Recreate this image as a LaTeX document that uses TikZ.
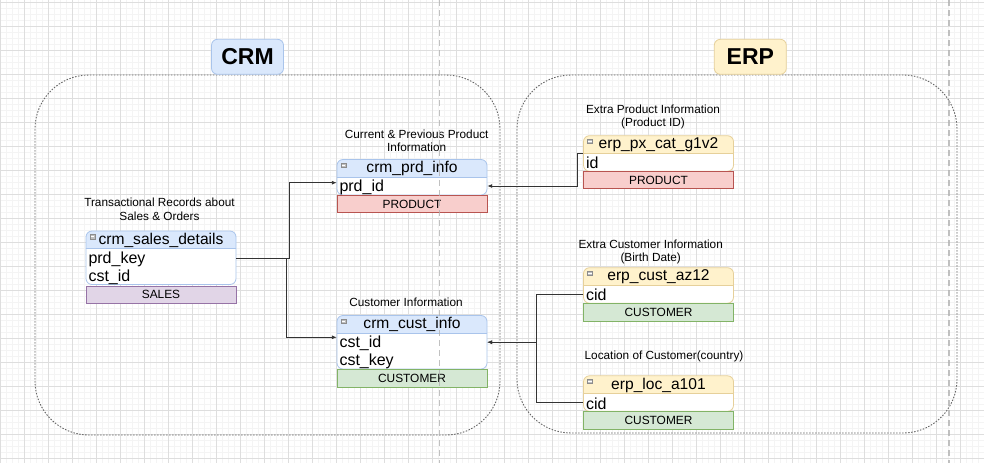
\documentclass[tikz,border=0pt]{standalone}
\usepackage{fontspec}
\setmainfont{Liberation Sans}
\usetikzlibrary{arrows.meta,calc}
\definecolor{bluefill}{HTML}{DAE8FC}
\definecolor{blueline}{HTML}{A9C4EB}
\definecolor{yellowfill}{HTML}{FFF2CC}
\definecolor{yellowline}{HTML}{E6D09A}
\definecolor{prodfill}{HTML}{F8CECC}
\definecolor{prodline}{HTML}{B85450}
\definecolor{custfill}{HTML}{D5E8D4}
\definecolor{custline}{HTML}{82B366}
\definecolor{salesfill}{HTML}{E1D5E7}
\definecolor{salesline}{HTML}{9673A6}
\definecolor{gridmajor}{HTML}{DEDEDE}
\definecolor{gridminor}{HTML}{F4F4F4}
\tikzset{
  conn/.style={draw=black!80, line width=0.9pt, -{Latex[length=5pt,width=4pt]}},
  caption/.style={font=\fontsize{11.8}{13.5}\selectfont, align=center, inner sep=0pt},
  ttitle/.style={font=\fontsize{15.6}{18}\selectfont, inner sep=0pt},
  frow/.style={font=\fontsize{16}{18}\selectfont, inner sep=0pt, minimum width=150pt,
    minimum height=18pt, text width=145pt, align=left},
  tagbox/.style={font=\fontsize{11.9}{13}\selectfont, inner sep=0pt, minimum width=150pt,
    minimum height=17.5pt, line width=0.8pt},
  minusicon/.style={draw=black!45, fill=black!25, minimum width=5pt, minimum height=4.5pt,
    inner sep=0pt, line width=0.4pt},
  labelbox/.style={rounded corners=6pt, line width=0.8pt, minimum width=72pt,
    minimum height=35pt, inner sep=0pt, font=\bfseries\fontsize{23}{26}\selectfont},
  groupline/.style={draw=black!60, line width=0.9pt, dash pattern=on 1.5pt off 1.5pt,
    rounded corners=54pt},
  pageline/.style={draw=black!30, line width=1.1pt, dash pattern=on 6pt off 4pt, opacity=0.8},
}
% #1 name, #2 x, #3 ytop, #4 rows, #5 scheme, #6 title
\newcommand{\erdtab}[6]{%
  \pgfmathsetmacro{\erdyl}{#3+17.5}%
  \pgfmathsetmacro{\erdyb}{#3+17.5+18*#4}%
  \fill[white, rounded corners=6pt] (#2,#3) rectangle (#2+150,\erdyb);
  \begin{scope}
    \clip (#2,#3) rectangle (#2+150,\erdyl);
    \fill[#5fill, rounded corners=6pt] (#2,#3) rectangle (#2+150,\erdyb);
  \end{scope}
  \draw[#5line, line width=0.8pt, rounded corners=6pt] (#2,#3) rectangle (#2+150,\erdyb);
  \draw[#5line, line width=0.8pt] (#2,\erdyl) -- (#2+150,\erdyl);
  \node[ttitle] (#1-title) at (#2+75,#3+9.2) {#6};
  \node[minusicon] (#1-icon) at (#2+6.5,#3+5.5) {};
  \draw[white, line width=0.5pt] (#2+4.8,#3+5.5) -- (#2+8.2,#3+5.5);
}
\begin{document}
\begin{tikzpicture}[x=1pt,y=-1pt]
\useasboundingbox (0,0) rectangle (984,463);
\fill[white] (0,0) rectangle (984,463);
% grid
\foreach \i in {0,6,...,984} \draw[gridminor, line width=0.5pt] (\i,0) -- (\i,463);
\foreach \j in {2.7,8.7,...,463} \draw[gridminor, line width=0.5pt] (0,\j) -- (984,\j);
\foreach \i in {0,24,...,984} \draw[gridmajor, line width=0.7pt] (\i,0) -- (\i,463);
\foreach \j in {2.7,26.7,...,463} \draw[gridmajor, line width=0.7pt] (0,\j) -- (984,\j);

% groups
\draw[groupline] (35,75) rectangle (500,435);
\draw[groupline] (517,75) rectangle (957,433);
\node[labelbox, fill=bluefill, draw=blueline] (crmlabel) at (247.5,56.8) {CRM};
\node[labelbox, fill=yellowfill, draw=yellowline] (erplabel) at (750.3,56.8) {ERP};

% captions
\node[caption] (cap-sales) at (159.5,209.3) {Transactional Records about\\Sales \& Orders};
\node[caption] (cap-prd) at (416.7,140.7) {Current \& Previous Product\\Information};
\node[caption] (cap-cust) at (406,302.7) {Customer Information};
\node[caption] (cap-px) at (653,116.7) {Extra Product Information\\(Product ID)};
\node[caption] (cap-az) at (650.7,252) {Extra Customer Information\\(Birth Date)};
\node[caption] (cap-loc) at (664,356) {Location of Customer(country)};

% crm_sales_details
\erdtab{sales}{86}{231}{2}{blue}{crm\_sales\_details}
\node[frow] (sales-r1) at (161,259) {prd\_key};
\node[frow] (sales-r2) at (161,277) {cst\_id};
\node[tagbox, fill=salesfill, draw=salesline] (sales-tag) at (161,294.8) {SALES};

% crm_prd_info
\erdtab{prd}{337}{159.5}{1}{blue}{crm\_prd\_info}
\node[frow] (prd-r1) at (412,187.2) {prd\_id};
\node[tagbox, fill=prodfill, draw=prodline] (prd-tag) at (412,204) {PRODUCT};

% crm_cust_info
\erdtab{cust}{337}{315.5}{2}{blue}{crm\_cust\_info}
\node[frow] (cust-r1) at (412,343.2) {cst\_id};
\node[frow] (cust-r2) at (412,361.2) {cst\_key};
\node[tagbox, fill=custfill, draw=custline] (cust-tag) at (412,378.2) {CUSTOMER};

% erp_px_cat_g1v2
\erdtab{px}{583.5}{135.7}{1}{yellow}{erp\_px\_cat\_g1v2}
\node[frow] (px-r1) at (658.5,163.2) {id};
\node[tagbox, fill=prodfill, draw=prodline] (px-tag) at (658.5,180) {PRODUCT};

% erp_cust_az12
\erdtab{az}{583.5}{267.7}{1}{yellow}{erp\_cust\_az12}
\node[frow] (az-r1) at (658.5,295.2) {cid};
\node[tagbox, fill=custfill, draw=custline] (az-tag) at (658.5,312.3) {CUSTOMER};

% erp_loc_a101
\erdtab{loc}{583.5}{375.8}{1}{yellow}{erp\_loc\_a101}
\node[frow] (loc-r1) at (658.5,403.3) {cid};
\node[tagbox, fill=custfill, draw=custline] (loc-tag) at (658.5,420.3) {CUSTOMER};

% connectors
\coordinate (j1) at (289.3,258.2);
\coordinate (j2) at (286.7,258.2);
\draw[conn] ($(sales-r1.east)+(0,-0.8)$) -- (j1) |- ($(prd-r1.west)+(0,-4.5)$);
\draw[conn] (j2) |- ($(cust-r1.west)+(0,-5.9)$);
\draw[conn] ($(px-r1.west)+(0,-9.7)$) -- ++(-6,0) |- ($(prd-r1.east)+(0,-1.2)$);
\draw[conn] ($(az-r1.west)+(0,-1)$) -- ++(-46.5,0) |- ($(cust-r1.east)+(0,-1)$);
\draw[conn] ($(loc-r1.west)+(0,-1)$) -- ++(-46.5,0) |- ($(cust-r1.east)+(0,-1)$);

% page breaks
\draw[pageline] (439.5,0) -- (439.5,463);
\draw[pageline] (949,0) -- (949,463);
\end{tikzpicture}
\end{document}
